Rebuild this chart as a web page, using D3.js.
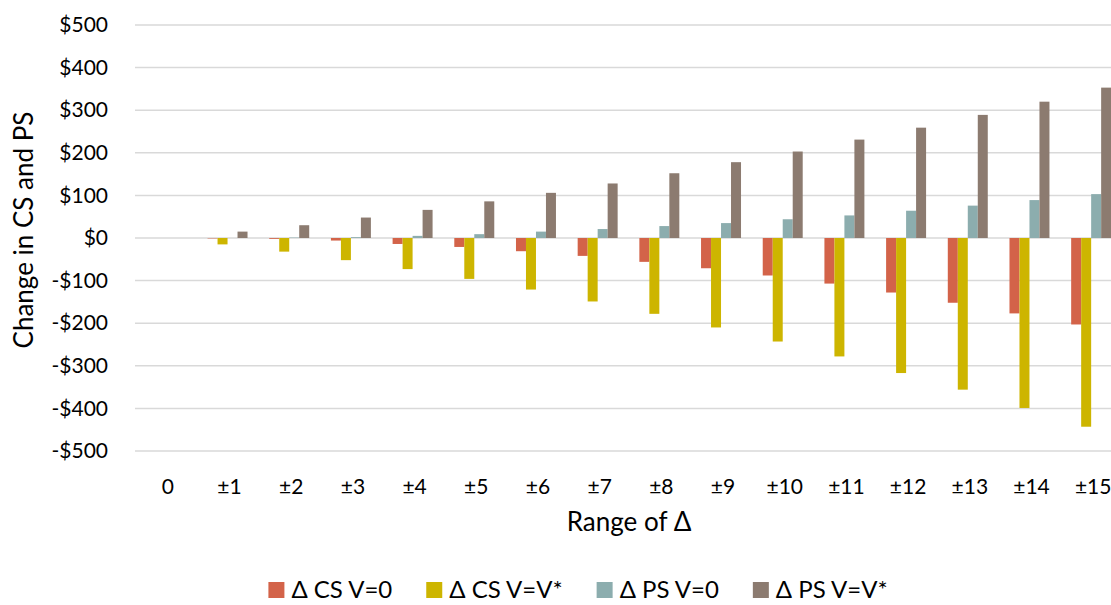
<!DOCTYPE html>
<html>
<head>
<meta charset="utf-8">
<script src="https://d3js.org/d3.v7.min.js"></script>
<style>
  body { margin: 0; background: #fff; }
  text { font-family: Lato, "Open Sans", sans-serif; fill: #000; }
</style>
</head>
<body>
<div id="chart"></div>
<script>
const categories = ['0','±1','±2','±3','±4','±5','±6','±7','±8','±9','±10','±11','±12','±13','±14','±15'];
const seriesNames = ['Δ CS V=0', 'Δ CS V=V*', 'Δ PS V=0', 'Δ PS V=V*'];
const csV0   = [0, -1, -2, -6, -14, -21, -31, -42, -56, -71, -88, -107, -128, -152, -177, -203];
const csVStar= [0, -15, -32, -52, -73, -96, -121, -149, -178, -210, -243, -278, -317, -356, -399, -443];
const psV0   = [0, 0, 1, 2, 5, 9, 15, 21, 28, 35, 44, 53, 64, 76, 89, 103];
const psVStar= [0, 15, 30, 48, 66, 86, 106, 128, 152, 178, 203, 231, 259, 289, 320, 353];
const yTicks = [-500, -400, -300, -200, -100, 0, 100, 200, 300, 400, 500];
const colors = ['#D36349', '#CDB500', '#8CADAE', '#8C7B70'];

const allSeries = [csV0, csVStar, psV0, psVStar];
const data = categories.map((c, i) => ({ cat: c, vals: allSeries.map(s => s[i]) }));

const w = 1111, h = 605;
const svg = d3.select('#chart').append('svg').attr('width', w).attr('height', h);

const x0 = d3.scaleBand().domain(categories).range([135, 1122]);
const bw = x0.bandwidth();
const x1 = d3.scaleBand().domain(d3.range(4)).range([0.176 * bw, 0.824 * bw]);
const y = d3.scaleLinear().domain([-500, 500]).range([451, 25]);

// gridlines
svg.append('g')
   .selectAll('line')
   .data(yTicks)
   .enter()
   .append('line')
   .attr('x1', 135).attr('x2', w)
   .attr('y1', d => y(d)).attr('y2', d => y(d))
   .attr('stroke', '#d9d9d9').attr('stroke-width', 1.5);

// y axis labels
const fmt = d => (d < 0 ? '-$' : '$') + Math.abs(d);
const yAxis = d3.axisLeft(y).tickValues(yTicks).tickFormat(fmt).tickSize(0).tickPadding(0);
const ya = svg.append('g').attr('transform', 'translate(108,0)').call(yAxis);
ya.select('.domain').remove();
ya.selectAll('text').style('font-family', 'Lato, sans-serif').style('font-size', '21px').attr('fill', '#000');

// bars
const groups = svg.append('g')
   .selectAll('g')
   .data(data)
   .enter()
   .append('g')
   .attr('transform', d => 'translate(' + x0(d.cat) + ',0)');

groups.selectAll('rect')
   .data(d => d.vals.map((v, k) => ({ v: v, k: k })))
   .enter()
   .append('rect')
   .attr('x', d => x1(d.k))
   .attr('width', x1.bandwidth())
   .attr('y', d => y(Math.max(0, d.v)))
   .attr('height', d => Math.abs(y(d.v) - y(0)))
   .attr('fill', d => colors[d.k]);

// x axis labels
const xAxis = d3.axisBottom(x0).tickSize(0).tickPadding(0);
const xa = svg.append('g').attr('transform', 'translate(2,479)').call(xAxis);
xa.select('.domain').remove();
xa.selectAll('text').style('font-family', 'Lato, sans-serif').style('font-size', '21px').attr('fill', '#000');

// axis titles
svg.append('text')
   .attr('x', 629).attr('y', 531)
   .attr('text-anchor', 'middle')
   .style('font-size', '26px')
   .text('Range of Δ');

svg.append('text')
   .attr('transform', 'translate(33,230) rotate(-90)')
   .attr('text-anchor', 'middle')
   .style('font-size', '26px')
   .text('Change in CS and PS');

// legend
const leg = svg.append('g');
let lx = 0;
seriesNames.forEach((name, k) => {
  leg.append('rect').attr('x', lx).attr('y', 582).attr('width', 16).attr('height', 16).attr('fill', colors[k]);
  const t = leg.append('text').attr('x', lx + 23).attr('y', 598).style('font-size', '24px').text(name);
  lx += 23 + t.node().getComputedTextLength() + 34;
});
const legW = lx - 34;
leg.attr('transform', 'translate(' + (578 - legW / 2) + ',0)');
</script>
</body>
</html>
